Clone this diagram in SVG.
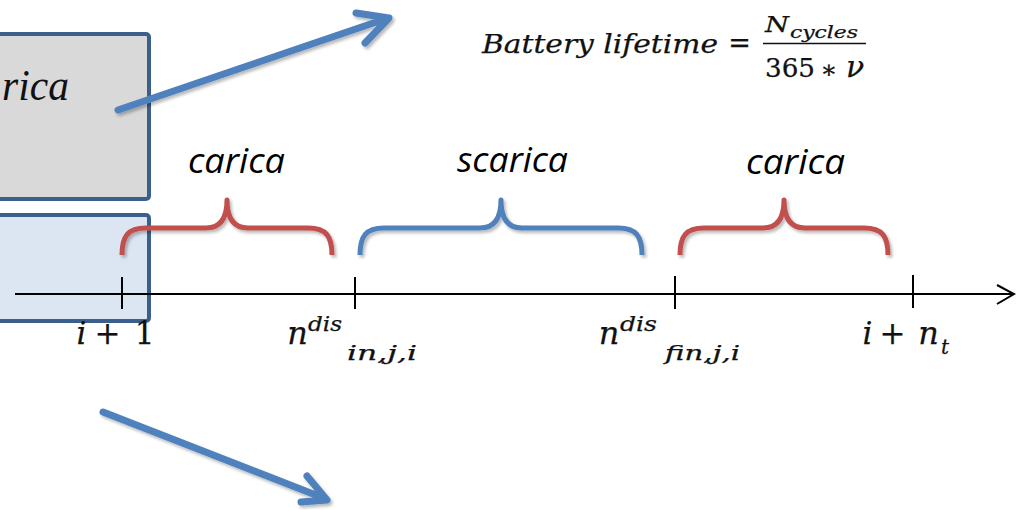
<svg xmlns="http://www.w3.org/2000/svg" width="1018" height="510" viewBox="0 0 1018 510">
  <style>
    .box { stroke: #3b5f8c; stroke-width: 4; }
    .math { font-family: "DejaVu Serif", "Liberation Serif", serif; fill: #111; stroke: #111; stroke-width: 0.25; }
    .it { font-style: italic; }
    .panel-text { font-family: "Liberation Serif", "DejaVu Serif", serif; font-style: italic; fill: #111; }
    .lbl { font-family: "Open Sans", "Liberation Sans", sans-serif; font-style: italic; font-size: 34px; fill: #000; }
    .brace { fill: none; stroke-width: 5; stroke-linecap: butt; stroke-linejoin: round; filter: url(#soft); }
    .red { stroke: #c0504d; }
    .blue { stroke: #4f81bd; }
    .flow { fill: none; stroke: #4f81bd; stroke-width: 7; stroke-linecap: round; stroke-linejoin: round; filter: url(#soft); }
    .axis { fill: none; stroke: #000; stroke-width: 2; }
  </style>
  <defs>
    <filter id="soft" x="-10%" y="-20%" width="130%" height="150%">
      <feDropShadow dx="2" dy="2.5" stdDeviation="1.6" flood-color="#000" flood-opacity="0.28"/>
    </filter>
    <clipPath id="formulaClip">
      <rect x="440" y="0" width="426" height="100"/>
    </clipPath>
  </defs>

  <rect width="1018" height="510" fill="#ffffff"/>

  <!-- panel nodes on the left -->
  <g id="panel-top">
    <rect class="box" x="-10" y="34" width="159" height="165" rx="3" fill="#d9d9d9"/>
    <text class="panel-text" x="2" y="100" font-size="44" textLength="67" lengthAdjust="spacingAndGlyphs">rica</text>
  </g>
  <g id="panel-bottom">
    <rect class="box" x="-10" y="215" width="159" height="106" rx="3" fill="#dce6f2"/>
  </g>

  <!-- formula -->
  <g id="formula" clip-path="url(#formulaClip)">
    <text class="math it" x="482" y="53" font-size="26" textLength="236" lengthAdjust="spacingAndGlyphs">Battery lifetime</text>
    <text class="math" x="739.5" y="52" font-size="27" text-anchor="middle">=</text>
    <text class="math it" x="765" y="32" font-size="23" textLength="24" lengthAdjust="spacingAndGlyphs">N</text>
    <text class="math it" x="790" y="38" font-size="16" textLength="68" lengthAdjust="spacingAndGlyphs">cycles</text>
    <line x1="763" y1="43.5" x2="867" y2="43.5" stroke="#111" stroke-width="1.6"/>
    <text class="math" x="765" y="77" font-size="26" textLength="50" lengthAdjust="spacingAndGlyphs">365</text>
    <text class="math" x="829" y="78" font-size="25" text-anchor="middle">∗</text>
    <text class="math it" x="846" y="77" font-size="30">ν</text>
  </g>

  <!-- connectors: flow arrows and the time axis -->
  <g id="connectors">
    <path class="flow" d="M118,110 L388,18 M356,13 L389,18 L365,43"/>
    <path class="flow" d="M103,412 L326,499 M307,476 L327,500 L301,502"/>
    <path class="axis" d="M15,294 L1013,294 M997,285 L1014,294 L997,304"/>
    <path class="axis" d="M122,277 V309 M355,277 V309 M675,276 V309 M913,275 V308"/>
  </g>

  <!-- interval braces -->
  <g id="brace-carica-1">
    <path class="brace red" d="M122,255 C122,236 128,228 146,228 L206,228 C219,228 227,220 227,200 C227,220 235,228 248,228 L308,228 C326,228 332,236 332,255"/>
    <text class="lbl" x="188" y="173" textLength="97" lengthAdjust="spacingAndGlyphs">carica</text>
  </g>
  <g id="brace-scarica">
    <path class="brace blue" d="M360,255 C360,236 366,228 384,228 L480,228 C493,228 501,220 501,200 C501,220 509,228 522,228 L618,228 C636,228 642,236 642,255"/>
    <text class="lbl" x="457" y="172" textLength="111" lengthAdjust="spacingAndGlyphs">scarica</text>
  </g>
  <g id="brace-carica-2">
    <path class="brace red" d="M680,255 C680,236 686,228 704,228 L763,228 C776,228 784,220 784,200 C784,220 792,228 805,228 L864,228 C882,228 888,236 888,255"/>
    <text class="lbl" x="746" y="174" textLength="99" lengthAdjust="spacingAndGlyphs">carica</text>
  </g>

  <!-- axis tick labels -->
  <g id="tick-i-plus-1">
    <text class="math it" x="81.5" y="344" font-size="31" text-anchor="middle">i</text>
    <text class="math" x="107.5" y="344" font-size="31" text-anchor="middle">+</text>
    <text class="math" x="144.5" y="344" font-size="31" text-anchor="middle">1</text>
  </g>
  <g id="tick-n-in">
    <text class="math it" x="297.5" y="344" font-size="32" text-anchor="middle">n</text>
    <text class="math it" x="308" y="331" font-size="20" textLength="34" lengthAdjust="spacingAndGlyphs">dis</text>
    <text class="math it" x="347" y="360" font-size="20" textLength="70" lengthAdjust="spacingAndGlyphs">in,j,i</text>
  </g>
  <g id="tick-n-fin">
    <text class="math it" x="609" y="344" font-size="32" text-anchor="middle">n</text>
    <text class="math it" x="620" y="331" font-size="20" textLength="37" lengthAdjust="spacingAndGlyphs">dis</text>
    <text class="math it" x="665" y="360" font-size="20" textLength="75" lengthAdjust="spacingAndGlyphs">fin,j,i</text>
  </g>
  <g id="tick-i-plus-nt">
    <text class="math it" x="867.5" y="344" font-size="31" text-anchor="middle">i</text>
    <text class="math" x="892.5" y="344" font-size="31" text-anchor="middle">+</text>
    <text class="math it" x="928.5" y="344" font-size="32" text-anchor="middle">n</text>
    <text class="math it" x="941" y="354" font-size="20">t</text>
  </g>
</svg>
